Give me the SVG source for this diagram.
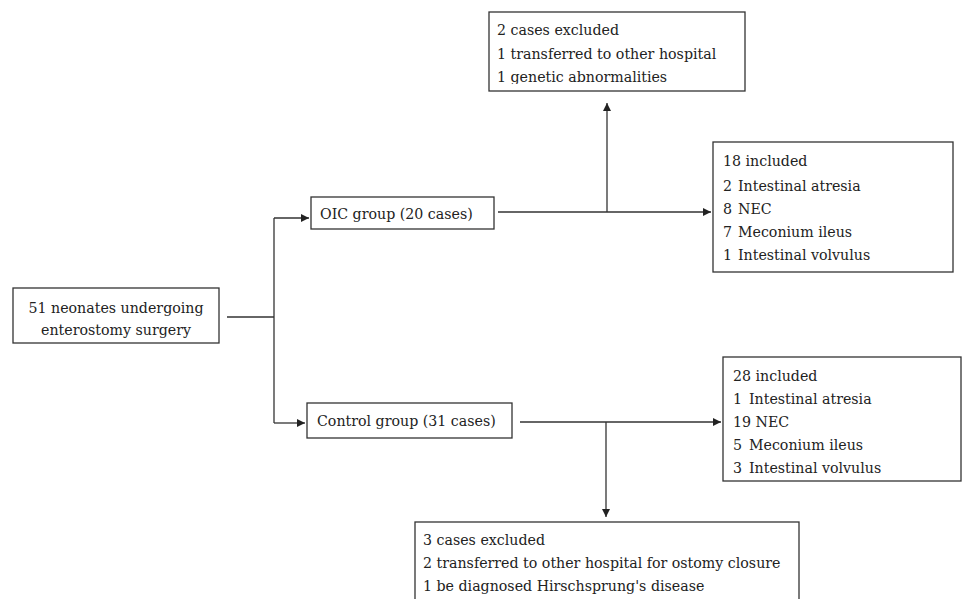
<svg xmlns="http://www.w3.org/2000/svg" width="962" height="599" viewBox="0 0 962 599">
<style>
.box{fill:#fff;stroke:#333;stroke-width:1.3}
.t{font-family:'DejaVu Serif',serif;font-size:14.2px;fill:#222}
.c{fill:none;stroke:#333;stroke-width:1.3}
</style>
<defs>
<marker id="ah" viewBox="0 0 10 10" refX="10" refY="5" markerWidth="10" markerHeight="8" markerUnits="userSpaceOnUse" orient="auto">
<path d="M0,0 L10,5 L0,10 z" fill="#222"/>
</marker>
<clipPath id="clipTop"><rect x="489" y="12" width="256" height="72"/></clipPath>
<clipPath id="clipBot"><rect x="415" y="522" width="385" height="77"/></clipPath>
</defs>
<rect width="962" height="599" fill="#fff"/>
<g id="connectors">
<path class="c" d="M227,317 H274"/>
<path class="c" d="M274,218 V423"/>
<path class="c" d="M274,218 H309" marker-end="url(#ah)"/>
<path class="c" d="M274,423 H305" marker-end="url(#ah)"/>
<path class="c" d="M498,212 H711" marker-end="url(#ah)"/>
<path class="c" d="M607,212 V103" marker-end="url(#ah)"/>
<path class="c" d="M520,422 H721" marker-end="url(#ah)"/>
<path class="c" d="M606,422 V517" marker-end="url(#ah)"/>
</g>
<g id="n-start">
<rect class="box" x="13" y="288" width="206" height="55"/>
<text class="t" x="116" y="313" text-anchor="middle">51 neonates undergoing</text>
<text class="t" x="116" y="335" text-anchor="middle">enterostomy surgery</text>
</g>
<g id="n-oic">
<rect class="box" x="311" y="197" width="183" height="32"/>
<text class="t" x="320" y="219">OIC group (20 cases)</text>
</g>
<g id="n-control">
<rect class="box" x="307" y="403" width="205" height="35"/>
<text class="t" x="317" y="426">Control group (31 cases)</text>
</g>
<g id="n-excl1">
<rect class="box" x="489" y="12" width="256" height="79"/>
<g clip-path="url(#clipTop)">
<text class="t" x="497" y="35">2 cases excluded</text>
<text class="t" x="497" y="59">1 transferred to other hospital</text>
<text class="t" x="497" y="82">1 genetic abnormalities</text>
</g>
</g>
<g id="n-incl1">
<rect class="box" x="713" y="142" width="240" height="130"/>
<text class="t" x="723" y="166">18 included</text>
<text class="t" x="723" y="191">2 <tspan x="738">Intestinal atresia</tspan></text>
<text class="t" x="723" y="214">8 <tspan x="738">NEC</tspan></text>
<text class="t" x="723" y="237">7 <tspan x="738">Meconium ileus</tspan></text>
<text class="t" x="723" y="260">1 <tspan x="738">Intestinal volvulus</tspan></text>
</g>
<g id="n-incl2">
<rect class="box" x="723" y="357" width="238" height="124"/>
<text class="t" x="733" y="381">28 included</text>
<text class="t" x="733" y="404">1 <tspan x="749">Intestinal atresia</tspan></text>
<text class="t" x="733" y="427">19 NEC</text>
<text class="t" x="733" y="450">5 <tspan x="749">Meconium ileus</tspan></text>
<text class="t" x="733" y="473">3 <tspan x="749">Intestinal volvulus</tspan></text>
</g>
<g id="n-excl2">
<rect class="box" x="415" y="522" width="384" height="90"/>
<g clip-path="url(#clipBot)">
<text class="t" x="423" y="545">3 cases excluded</text>
<text class="t" x="423" y="568">2 transferred to other hospital for ostomy closure</text>
<text class="t" x="423" y="591">1 be diagnosed Hirschsprung's disease</text>
</g>
</g>
</svg>
